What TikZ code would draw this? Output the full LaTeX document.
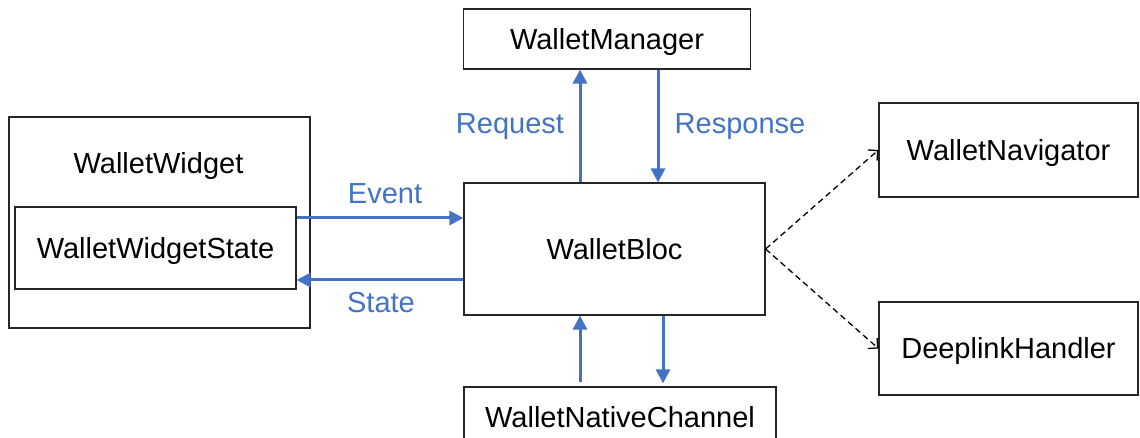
\documentclass[tikz,border=0pt]{standalone}
\usepackage{fontspec}
\setmainfont{Liberation Sans}
\usetikzlibrary{arrows.meta}
\definecolor{flowblue}{HTML}{4472C4}
\tikzset{
  every node/.style={font=\fontsize{29}{34}\selectfont, text height=20.8pt, text depth=0pt, inner sep=0pt},
  box/.style={draw=black!85, line width=1.2pt, fill=white},
  lbl/.style={text=flowblue},
  flow/.style={draw=flowblue, line width=3pt, -{Triangle[length=14pt,width=14pt]}},
  link/.style={draw=black, line width=1.3pt, dash pattern=on 6pt off 4pt,
               -{Straight Barb[length=7pt,width=14pt]}}
}
\begin{document}
\begin{tikzpicture}[x=1pt, y=-1pt]
  \useasboundingbox (0,0) rectangle (1140,438);

  % components
  \node[box, minimum width=287pt, minimum height=60pt] (mgr) at (607,39) {WalletManager};
  \node[box, minimum width=301pt, minimum height=211pt] (widget) at (159.5,222.5) {};
  \node (widgetlbl) at (158.5,163) {WalletWidget};
  \node[box, minimum width=281pt, minimum height=82pt] (wstate) at (155.5,248) {WalletWidgetState};
  \node[box, minimum width=301pt, minimum height=132pt] (bloc) at (614.5,249) {WalletBloc};
  \node[box, minimum width=259pt, minimum height=94pt] (nav) at (1008.5,150) {WalletNavigator};
  \node[box, minimum width=259pt, minimum height=93pt] (dl) at (1008.5,348.5) {DeeplinkHandler};
  \node[box, minimum width=312pt, minimum height=60pt] (native) at (620,417) {WalletNativeChannel};

  % bloc <-> manager
  \draw[flow] ([xshift=-34.5pt]bloc.north) -- ([xshift=-34.5pt]bloc.north |- mgr.south);
  \draw[flow] ([xshift=43.5pt]bloc.north |- mgr.south) -- ([xshift=43.5pt]bloc.north);
  \node[lbl] (req) at (510,123) {Request};
  \node[lbl] (resp) at (740,123) {Response};

  % widget state <-> bloc
  \draw[flow] ([yshift=31pt]wstate.east |- bloc.center) -- ([yshift=31pt]bloc.west);
  \draw[flow] ([yshift=-31pt]bloc.west) -- ([yshift=-31pt]wstate.east |- bloc.center);
  \node[lbl] (evt) at (385,193) {Event};
  \node[lbl] (st) at (381,302.5) {State};

  % native channel <-> bloc
  \draw[flow, shorten <=4pt] ([xshift=-34.5pt]bloc.south |- native.north) -- ([xshift=-34.5pt]bloc.south);
  \draw[flow, shorten >=3pt] ([xshift=48.5pt]bloc.south) -- ([xshift=48.5pt]bloc.south |- native.north);

  % navigation and deep links
  \draw[link] (bloc.east) -- (nav.west);
  \draw[link] (bloc.east) -- (dl.west);
\end{tikzpicture}
\end{document}
